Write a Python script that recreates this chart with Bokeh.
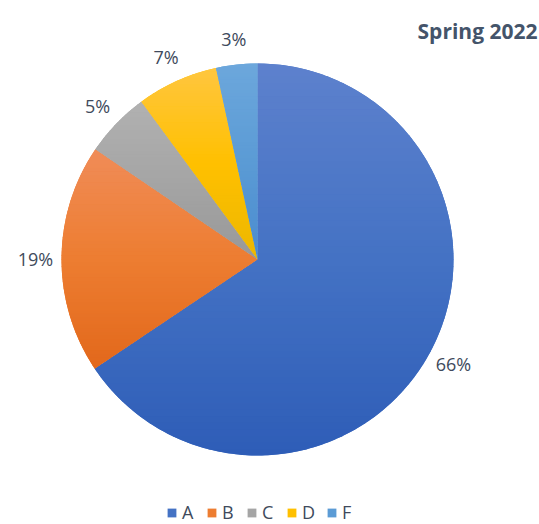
import math
from bokeh.plotting import figure
from bokeh.models import Range1d, Legend, LegendItem, Label, ColumnDataSource
from bokeh.core.properties import value
from bokeh.embed import file_html
from bokeh.resources import INLINE

# ---- data ----
categories = ["A", "B", "C", "D", "F"]
shares = [65.6, 18.9, 5.4, 6.7, 3.4]
pct_labels = ["66%", "19%", "5%", "7%", "3%"]
colors = ["#4472C4", "#ED7D31", "#A5A5A5", "#FFC000", "#5B9BD5"]
top_colors = ["#5D81CD", "#F08C58", "#B1B1B1", "#FFC63F", "#6CA7DC"]
bottom_colors = ["#2E5DB7", "#E2681B", "#989898", "#ECB700", "#4A8BCF"]
title_text = "Spring 2022"

W, H = 539, 524
FONT = "Open Sans"
TEXT_COL = "#404A5C"

p = figure(width=W, height=H, output_backend="svg", toolbar_location=None,
           x_range=Range1d(0, W), y_range=Range1d(0, H), min_border=0)
p.axis.visible = False
p.grid.visible = False
p.outline_line_color = None

cx, cy, r = 257, H - 259, 196
total = sum(shares)
starts, ends, mids = [], [], []
cum = 0.0
for s in shares:
    a0 = math.pi / 2 - 2 * math.pi * cum / total
    cum += s
    a1 = math.pi / 2 - 2 * math.pi * cum / total
    starts.append(a0)
    ends.append(a1)
    mids.append((a0 + a1) / 2)

src = ColumnDataSource(dict(cat=categories, start=starts, end=ends, color=colors))
wr = p.wedge(x=cx, y=cy, radius=r, start_angle="start", end_angle="end",
             direction="clock", fill_color="color", line_color=None, source=src)


# ---- vertical gradient overlay: each slice cut into horizontal strips ----
def hex2rgb(h):
    return tuple(int(h[i:i + 2], 16) for i in (1, 3, 5))


def lerp_col(c1, c2, t):
    a, b = hex2rgb(c1), hex2rgb(c2)
    return "#%02x%02x%02x" % tuple(round(a[i] + (b[i] - a[i]) * t) for i in range(3))


def grad(top, mid, bot, t):
    return lerp_col(top, mid, t * 2) if t < 0.5 else lerp_col(mid, bot, (t - 0.5) * 2)


def clip(poly, yv, keep_above):
    out = []
    n = len(poly)
    for i in range(n):
        P, Q = poly[i], poly[(i + 1) % n]
        pin = P[1] >= yv if keep_above else P[1] <= yv
        qin = Q[1] >= yv if keep_above else Q[1] <= yv
        if pin:
            out.append(P)
        if pin != qin:
            t = (yv - P[1]) / (Q[1] - P[1])
            out.append((P[0] + t * (Q[0] - P[0]), yv))
    return out


xs_all, ys_all, cols_all = [], [], []
NS = 60
for a0, a1, tc, mc, bc in zip(starts, ends, top_colors, colors, bottom_colors):
    n = max(8, int(abs(a0 - a1) * 60))
    poly = [(cx, cy)] + [(cx + r * math.cos(a0 + (a1 - a0) * k / n),
                          cy + r * math.sin(a0 + (a1 - a0) * k / n)) for k in range(n + 1)]
    ytop = max(q[1] for q in poly)
    ybot = min(q[1] for q in poly)
    step = (ytop - ybot) / NS
    for j in range(NS):
        hi = ytop - j * step
        lo = hi - step - (0.6 if j < NS - 1 else 0)
        piece = clip(clip(poly, lo, True), hi, False)
        if len(piece) < 3:
            continue
        xs_all.append([q[0] for q in piece])
        ys_all.append([q[1] for q in piece])
        cols_all.append(grad(tc, mc, bc, (j + 0.5) / NS))

p.patches(xs=xs_all, ys=ys_all, fill_color=cols_all, line_color=None)

lr = 222
lsrc = ColumnDataSource(dict(
    x=[cx + lr * math.cos(m) for m in mids],
    y=[cy + lr * math.sin(m) for m in mids],
    t=pct_labels))
p.text(x="x", y="y", text="t", source=lsrc, text_align="center",
       text_baseline="middle", text_font=value(FONT), text_font_size="18px",
       text_color=TEXT_COL)

p.add_layout(Label(x=W - 2, y=H - 30, x_units="screen", y_units="screen",
                   text=title_text, text_align="right", text_baseline="middle",
                   text_font=FONT, text_font_size="21px", text_font_style="bold",
                   text_color="#44546A"))

items = [LegendItem(label=c, renderers=[wr], index=i) for i, c in enumerate(categories)]
legend = Legend(items=items, orientation="horizontal", location=(166, 0),
                glyph_width=11, glyph_height=11, label_standoff=5, spacing=4,
                padding=0, margin=0, border_line_color=None,
                background_fill_alpha=0, label_text_font=FONT,
                label_text_font_size="18px", label_text_color=TEXT_COL)
p.add_layout(legend)

open("out.html", "w").write(file_html(p, INLINE))
